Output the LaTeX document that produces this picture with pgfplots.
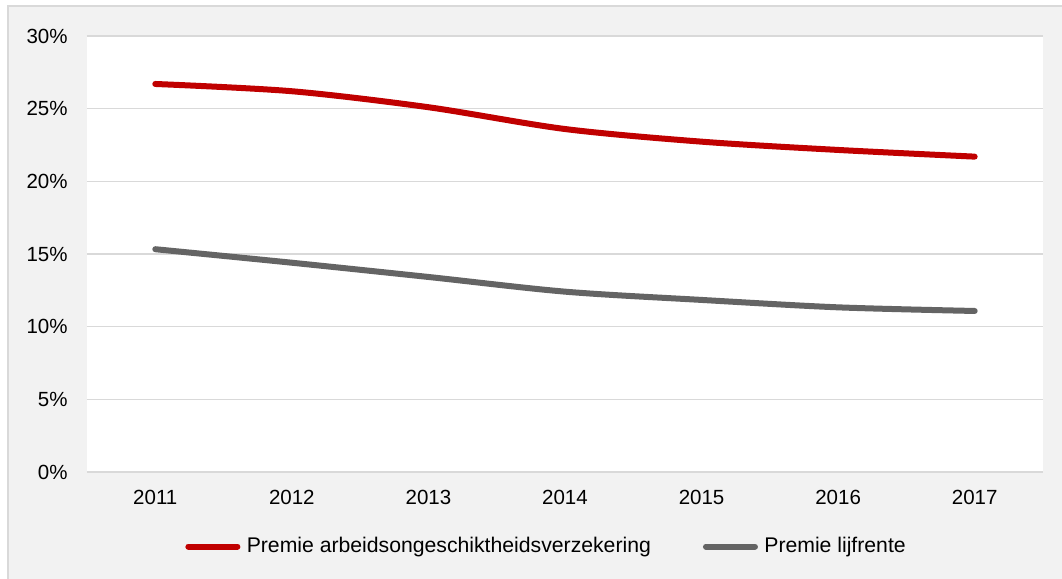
\documentclass[border=0pt]{standalone}
\usepackage{fontspec}
\setmainfont{Liberation Sans}
\usepackage{pgfplots}
\pgfplotsset{compat=1.18}
\definecolor{cred}{HTML}{C00000}
\definecolor{cgray}{HTML}{646464}
\definecolor{cgrid}{HTML}{D9D9D9}
\definecolor{cbg}{HTML}{F2F2F2}
\begin{document}
\begin{tikzpicture}
\useasboundingbox (-43.5pt,-53.5pt) rectangle (487.5pt,236pt);
\fill[white] (-43.5pt,-53.5pt) rectangle (487.5pt,236pt);
\filldraw[fill=cbg,draw=cgrid,line width=0.8pt] (-39.5pt,-60pt) rectangle (495pt,233pt);
\begin{axis}[
  scale only axis,
  width=478pt, height=218pt,
  xmin=-0.5, xmax=6.5,
  ymin=0, ymax=30,
  xtick={0,1,2,3,4,5,6},
  xticklabels={2011,2012,2013,2014,2015,2016,2017},
  ytick={0,5,10,15,20,25,30},
  yticklabel={\pgfmathprintnumber{\tick}\%},
  /pgf/number format/assume math mode=true,
  axis line style={draw=none},
  axis background/.style={fill=white},
  major tick length=0pt,
  ymajorgrids,
  grid style={cgrid,line width=0.8pt},
  tick label style={font=\fontsize{10.25pt}{12pt}\selectfont, text=black},
  yticklabel style={inner sep=0pt, anchor=east, xshift=-9.5pt},
  xticklabel style={inner sep=0pt, anchor=north, yshift=-9pt},
  legend columns=2,
  legend style={
    at={(0.1025,-0.1709)}, anchor=west,
    draw=none, fill=none, inner sep=0pt,
    font=\fontsize{10.6pt}{12pt}\selectfont,
    nodes={inner sep=0pt},
    /tikz/every odd column/.append style={column sep=3.2pt},
    /tikz/every even column/.append style={column sep=26pt},
  },
  legend image code/.code={\draw[#1, line cap=round] (0pt,0pt) -- (24.5pt,0pt);},
]
\addplot[cred, line width=3pt, line cap=round, smooth, tension=0.5] coordinates {
  (0,26.7) (1,26.2) (2,25.1) (3,23.6) (4,22.73) (5,22.16) (6,21.7)
};
\addlegendentry{Premie arbeidsongeschiktheidsverzekering}
\addplot[cgray, line width=3pt, line cap=round, smooth, tension=0.5] coordinates {
  (0,15.33) (1,14.4) (2,13.42) (3,12.41) (4,11.84) (5,11.33) (6,11.08)
};
\addlegendentry{Premie lijfrente}
\end{axis}
\end{tikzpicture}
\end{document}
